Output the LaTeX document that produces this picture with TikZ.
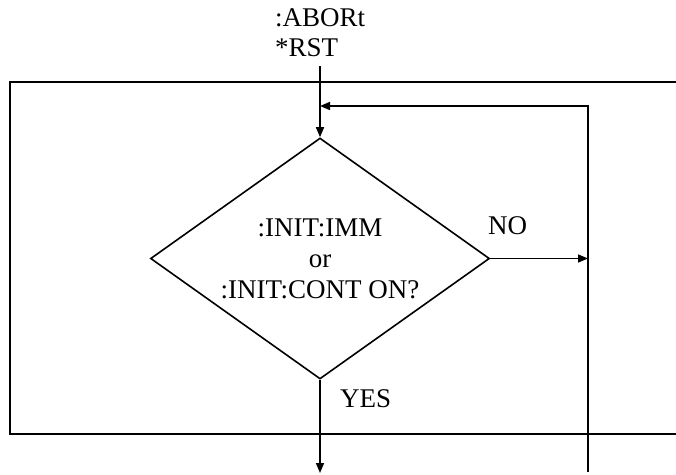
\documentclass[tikz,border=0pt]{standalone}
\usepackage{fontspec}
\setmainfont{Liberation Serif}
\usetikzlibrary{arrows.meta,positioning,shapes.geometric}

\begin{document}
\begin{tikzpicture}[x=1pt,y=-1pt,
  flowline/.style={line width=1.6pt,-{Triangle[length=10pt,width=8pt]}},
  lbl/.style={font=\fontsize{27}{30}\selectfont,inner sep=0pt}]
  \useasboundingbox (0,0) rectangle (676,474);
  % open frame
  \draw[line width=2pt] (676,82) -| (10,434) -- (676,434);
  \node[lbl,anchor=north west,align=left] (cmd) at (275,8) {:ABORt\\*RST};
  \node[lbl,draw,diamond,aspect=1.4,line width=1.6pt,minimum width=339pt,minimum height=241pt,
        align=center,font=\fontsize{27}{31}\selectfont] (test) at (320,258.5) {:INIT:IMM\\or\\:INIT:CONT ON?};
  \coordinate (entry) at (320,66); \coordinate (loopin) at (320,106);
  \coordinate (loopbot) at (588,472); \coordinate (exit) at (320,473);
  \coordinate (loopside) at (loopbot |- test.east);
  \draw[flowline] (entry) -- (test.north);
  \draw[flowline] (loopbot) |- (loopin);
  \draw[flowline] (test.east) -- (loopside);
  \draw[flowline] (test.south) -- (exit);
  \node[lbl,anchor=base west] (no) at (488,234) {NO};
  \node[lbl,anchor=base west] (yes) at (340,407) {YES};
\end{tikzpicture}
\end{document}
